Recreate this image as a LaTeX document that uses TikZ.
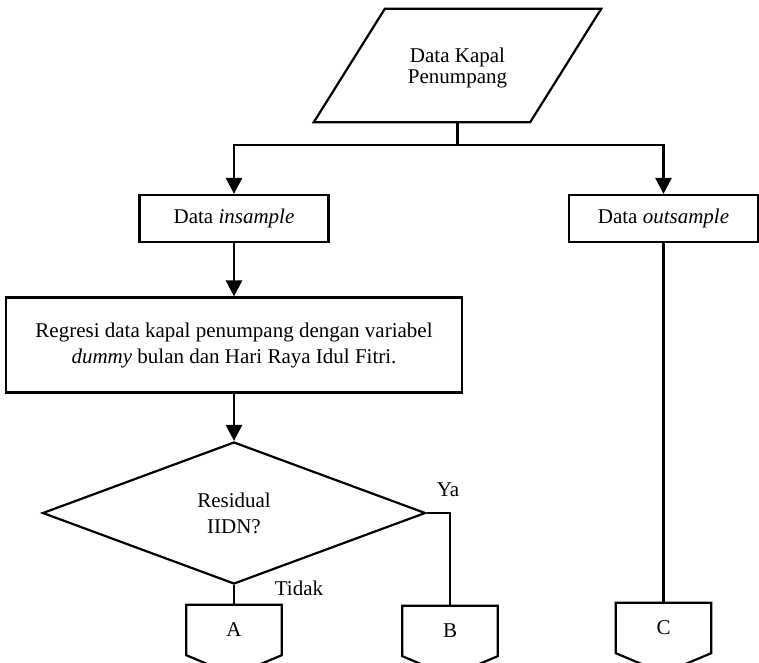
\documentclass[tikz,border=0pt]{standalone}
\usepackage{fontspec}
\setmainfont{Liberation Serif}
\usetikzlibrary{arrows.meta,shapes.geometric}
\begin{document}
\begin{tikzpicture}[x=1pt,y=-1pt,
  txt/.style={font=\fontsize{21}{26}\selectfont, align=center},
  box/.style={draw, line width=2.2pt, txt, inner sep=0pt},
  decision/.style={draw, diamond, line width=2.2pt, txt, inner sep=0pt,
                   minimum width=383pt, minimum height=142pt},
  holder/.style={txt, inner sep=0pt, minimum width=95pt, minimum height=50pt},
  offpage/.style={draw, line width=2.2pt, line join=miter},
  flow/.style={line width=2.7pt, -{Triangle[length=16pt,width=16pt]}},
  link/.style={line width=2.2pt},
  lbl/.style={font=\fontsize{21}{26}\selectfont, inner sep=0pt}]

\useasboundingbox (0,0) rectangle (759,662);
\clip (0,0) rectangle (759,662);

% input data (parallelogram)
\node[inner sep=0pt, minimum width=287pt, minimum height=113pt] (para) at (457.5,65.5) {};
\node[txt, font=\fontsize{21}{21}\selectfont, inner sep=0pt] (paratext) at (457.5,68)
  {Data Kapal\\Penumpang};
\draw[link, line join=miter] ([xshift=71pt]para.north west) -- (para.north east)
  -- ([xshift=-71pt]para.south east) -- (para.south west) -- cycle;
\coordinate (split) at (457.5,145);

% process boxes
\node[box, minimum width=189pt, minimum height=47pt] (ins) at (234,218.5) {Data \textit{insample}};
\node[box, minimum width=189pt, minimum height=47pt] (outs) at (663.5,218.5) {Data \textit{outsample}};
\node[box, minimum width=456pt, minimum height=95pt] (reg) at (234,345)
  {Regresi data kapal penumpang dengan variabel\\\textit{dummy} bulan dan Hari Raya Idul Fitri.};

% decision
\node[decision] (dia) at (234,513) {Residual\\IIDN?};

% off-page connectors
\node[holder] (A) at (234,630) {A};
\node[holder] (B) at (450,631) {B};
\node[holder] (C) at (663.5,628) {C};
\foreach \n in {A,B,C}
  \draw[offpage] (\n.north west) -- (\n.north east) -- (\n.south east)
    -- ([yshift=-20pt]\n.south) -- (\n.south west) -- cycle;

% connectors
\draw[link] (para.south) -- (split);
\draw[flow] (split) -| (ins.north);
\draw[flow] (split) -| (outs.north);
\draw[flow] (ins.south) -- (reg.north);
\draw[flow] (reg.south) -- (dia.north);
\draw[link] (dia.south) -- (A.north);
\draw[link] (dia.east) -| (B.north);
\draw[link] (outs.south) -- (C.north);

% branch labels
\node[lbl] (ya) at (448,490) {Ya};
\node[lbl] (tidak) at (299,588) {Tidak};
\end{tikzpicture}
\end{document}
